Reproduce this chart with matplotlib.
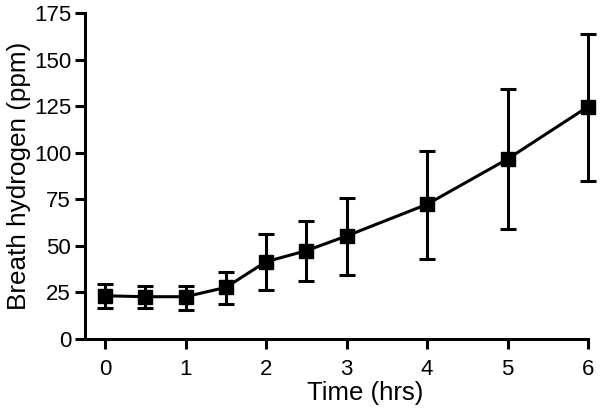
import matplotlib
matplotlib.use("Agg")
import matplotlib.pyplot as plt

time_hrs = [0, 0.5, 1, 1.5, 2, 2.5, 3, 4, 5, 6]
h2_mean = [23.2, 22.7, 22.7, 27.7, 41.5, 47.4, 55.3, 72.3, 96.6, 124.7]
err_upper = [29.5, 28.4, 28.4, 36.1, 56.4, 63.5, 75.7, 101.1, 134.0, 163.7]
err_lower = [16.6, 16.5, 15.6, 18.8, 26.3, 31.3, 34.2, 43.1, 58.9, 84.8]
x_ticks = [0, 1, 2, 3, 4, 5, 6]
y_ticks = [0, 25, 50, 75, 100, 125, 150, 175]

plt.rcParams['font.family'] = ['Liberation Sans', 'DejaVu Sans']

fig = plt.figure(figsize=(6.0, 4.11), dpi=100)
ax = fig.add_axes([85/600, 72/411, (588-85)/600, (339-13)/411])

yerr = [[m - l for m, l in zip(h2_mean, err_lower)],
        [u - m for m, u in zip(h2_mean, err_upper)]]
ax.errorbar(time_hrs, h2_mean, yerr=yerr, color='black', lw=2.2,
            marker='s', markersize=10, capsize=6, capthick=2.2, elinewidth=2.2,
            clip_on=False, zorder=3)

ax.set_xlim(-0.25, 6)
ax.set_ylim(0, 175)
ax.set_xticks(x_ticks)
ax.set_yticks(y_ticks)
for s in ['top', 'right']:
    ax.spines[s].set_visible(False)
for s in ['left', 'bottom']:
    ax.spines[s].set_linewidth(2.2)
ax.tick_params(width=2.2, length=7, labelsize=16)
ax.tick_params(axis='x', pad=7.5)
ax.tick_params(axis='y', pad=3)
ax.set_xlabel('Time (hrs)', fontsize=18.5, labelpad=0.5)
ax.xaxis.label.set_x(0.557)
ax.set_ylabel('Breath hydrogen (ppm)', fontsize=18.8, labelpad=2)

fig.savefig('out.png', dpi=100)
